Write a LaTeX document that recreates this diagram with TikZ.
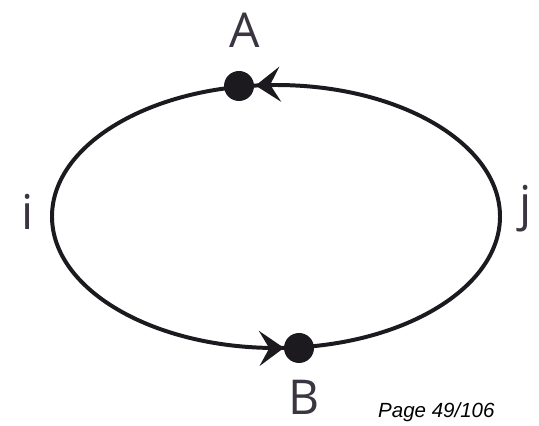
\documentclass[tikz,border=0pt]{standalone}
\usepackage{fontspec}
\setmainfont{Open Sans}
\newfontfamily\pagefont{Liberation Sans}
\usetikzlibrary{arrows.meta, decorations.markings}
\definecolor{inkline}{HTML}{1C191F}
\definecolor{inktext}{HTML}{3B3541}

\begin{document}
\begin{tikzpicture}[
      x=0.03cm, y=0.03cm,
      dot/.style={circle, fill=inkline, inner sep=0pt, minimum size=0.9cm},
      lbl/.style={text=inktext, font=\fontsize{41}{48}\selectfont, inner sep=0pt, anchor=base},
      orbit/.style={draw=inkline, color=inkline, line width=3.4pt, postaction={decorate},
        decoration={markings,
          mark=at position 0.268 with {\arrow{Stealth[length=0.74cm, width=1.05cm, inset=0.3cm]}},
          mark=at position 0.757 with {\arrow{Stealth[length=0.74cm, width=1.05cm, inset=0.3cm]}}}}
    ]
    \useasboundingbox (0,0) rectangle (539,426);
    \coordinate (o) at (276,209.5);
    \draw[orbit] (o) ellipse [x radius=224, y radius=131.5];
    \node[dot] (A) at (239,340) {};
    \node[dot] (B) at (299,78) {};
    \node[lbl] (labA) at (245,378) {A};
    \node[lbl] (labB) at (304,11) {B};
    \node[lbl] (labI) at (28,196) {i};
    \node[lbl] (labJ) at (526,205) {j};
    \node[anchor=base west, inner sep=0pt, font=\pagefont\itshape\fontsize{17.5}{20}\selectfont] (page) at (378,8) {Page 49/106};
  \end{tikzpicture}
\end{document}
